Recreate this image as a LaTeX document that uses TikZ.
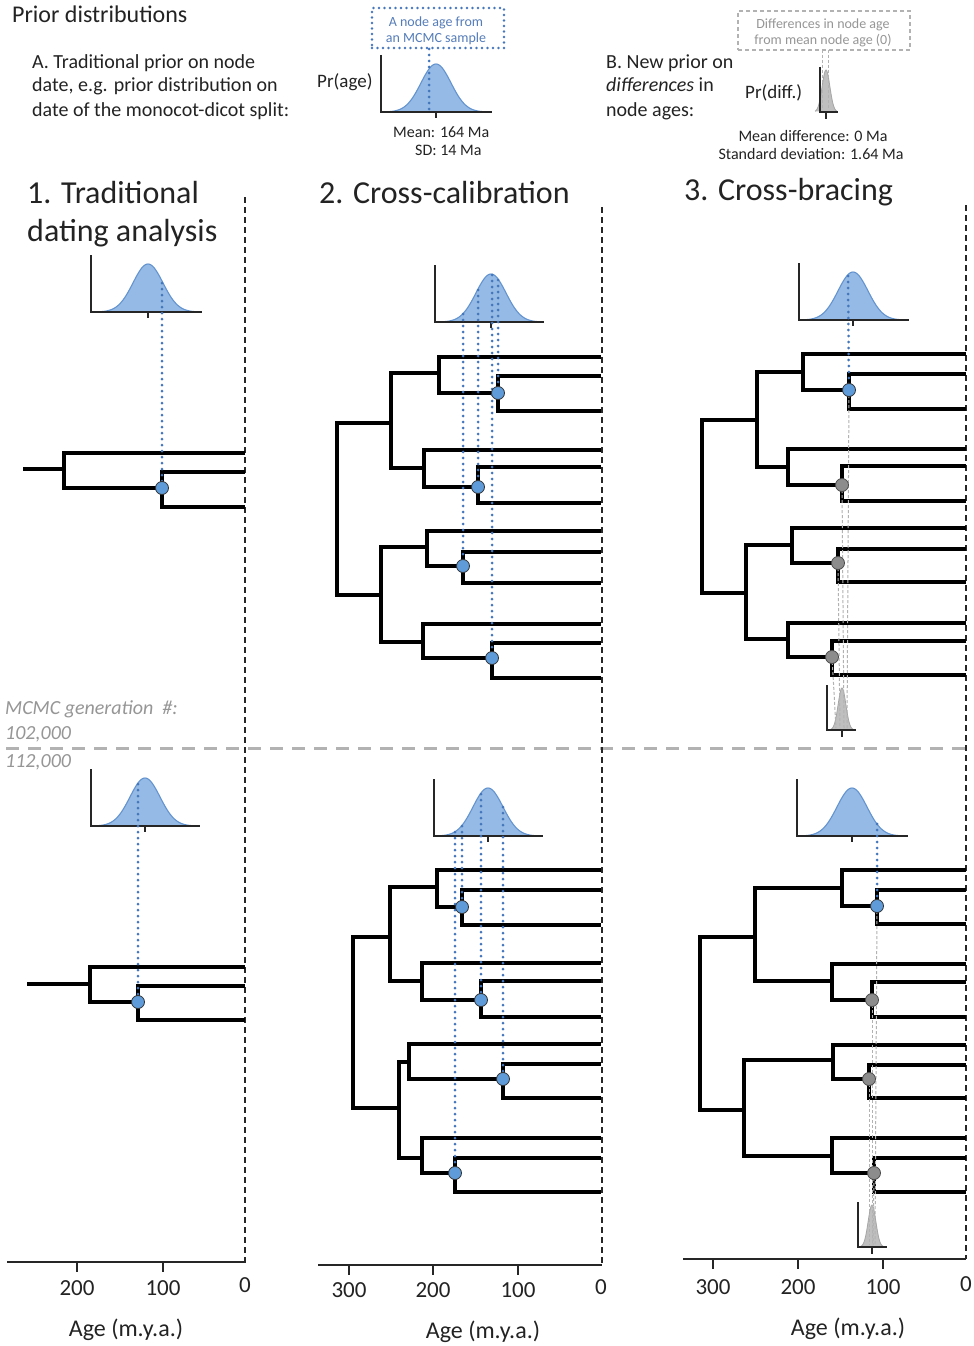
\documentclass[tikz,border=0pt]{standalone}
\usepackage{fontspec}
\setmainfont{Carlito}
\definecolor{bfill}{RGB}{148,186,229}
\definecolor{bline}{RGB}{100,148,208}
\definecolor{bdot}{RGB}{68,118,188}
\definecolor{bnode}{RGB}{95,155,216}
\definecolor{gnode}{RGB}{140,140,140}
\definecolor{txt}{RGB}{35,35,35}
\definecolor{btxt}{RGB}{85,125,185}
\definecolor{gtxt}{RGB}{150,150,150}
\definecolor{sepc}{RGB}{178,178,178}

\newcommand{\mybell}[4]{%
  \fill[bfill] plot[domain=-46:46,samples=61,smooth] ({#3+\x},{#2-48*exp(-((\x)*(\x))/450)}) -- cycle;
  \draw[bline,line width=1.1pt] plot[domain=-46:46,samples=61,smooth] ({#3+\x},{#2-48*exp(-((\x)*(\x))/450)});
  \draw[axisline] (#1,#2-57) -- (#1,#2) -- (#4,#2);
  \draw[axisline] (#3,#2) -- (#3,#2+6);
}
\newcommand{\mynarrow}[5]{%
  \fill[gray!50] plot[domain=-#5:#5,samples=41,smooth] ({#3+\x},{#2-42*exp(-((\x)*(\x))/30)}) -- cycle;
  \draw[gray!70,line width=0.8pt] plot[domain=-#5:#5,samples=41,smooth] ({#3+\x},{#2-42*exp(-((\x)*(\x))/30)});
  \draw[axisline] (#1,#2-45) -- (#1,#2) -- (#4,#2);
  \draw[axisline] (#3,#2) -- (#3,#2+7);
}

\begin{document}
\begin{tikzpicture}[x=1pt,y=-1pt,
  branch/.style={line width=3.2pt,line join=miter,black},
  axisline/.style={line width=1.5pt,black!85},
  vdash/.style={line width=1.5pt,black!85,dash pattern=on 6pt off 4pt},
  hsep/.style={line width=3pt,sepc,dash pattern=on 13pt off 9pt},
  bluedot/.style={bdot,line width=3pt,line cap=round,dash pattern=on 0pt off 6pt},
  greydash/.style={gray!60,line width=1pt,dash pattern=on 3pt off 2pt},
  bnodest/.style={circle,fill=bnode,draw=black!80,line width=0.8pt,minimum size=13pt,inner sep=0pt},
  gnodest/.style={circle,fill=gnode,draw=black!70,line width=0.8pt,minimum size=13pt,inner sep=0pt},
  bluebox/.style={draw=bdot,line width=2.8pt,line cap=round,dash pattern=on 0pt off 5.5pt,inner sep=0pt},
  greybox/.style={draw=gray!60,line width=1.2pt,dash pattern=on 4pt off 3pt,inner sep=0pt},
  t24/.style={anchor=base west,inner sep=0pt,text=txt,font=\fontsize{24}{28}\selectfont},
  t20/.style={anchor=base west,inner sep=0pt,text=txt,font=\fontsize{20}{24}\selectfont},
  t19/.style={anchor=base west,inner sep=0pt,text=txt,font=\fontsize{19}{23}\selectfont},
  t16/.style={anchor=base,inner sep=0pt,text=txt,font=\fontsize{16}{19}\selectfont},
  t14b/.style={anchor=base,inner sep=0pt,text=btxt,font=\fontsize{14}{17}\selectfont},
  t14g/.style={anchor=base,inner sep=0pt,text=gtxt,font=\fontsize{14}{17}\selectfont},
  t32/.style={anchor=base west,inner sep=0pt,text=txt,font=\fontsize{32}{39}\selectfont},
  tgen/.style={anchor=base west,inner sep=0pt,text=gtxt,font=\fontsize{20}{24}\selectfont\itshape},
  tick/.style={anchor=base,inner sep=0pt,text=txt,font=\fontsize{23}{27}\selectfont},
  agelab/.style={anchor=base,inner sep=0pt,text=txt,font=\fontsize{24}{28}\selectfont}
]
\useasboundingbox (0,0) rectangle (974,1346);
\fill[white] (0,0) rectangle (974,1346);

% ---------- header texts ----------
\node[t24] (ptitle) at (12,23) {Prior distributions};
\node[t20] (a1) at (32,68) {A. Traditional prior on node};
\node[t20] (a2) at (32,92) {date, e.g. prior distribution on};
\node[t20] (a3) at (32,116) {date of the monocot-dicot split:};
\node[t19] (prage) at (317,87) {Pr(age)};
\node[bluebox,minimum width=132pt,minimum height=40pt] (boxA) at (438,28) {};
\node[t14b] (boxA1) at (436,27) {A node age from};
\node[t14b] (boxA2) at (436,43) {an MCMC sample};
\mybell{381}{112}{436}{492}
\draw[bluedot] (429,49) -- (429,112);
\node[t16,anchor=base west] (meanA) at (393,137) {Mean: 164 Ma};
\node[t16,anchor=base west] (sdA) at (415,155) {SD: 14 Ma};

\node[t20] (b1) at (606,68) {B. New prior on};
\node[t20] (b2) at (606,92) {\textit{differences} in};
\node[t20] (b3) at (606,116) {node ages:};
\node[t19] (prdiff) at (745,98) {Pr(diff.)};
\node[greybox,minimum width=172pt,minimum height=39pt] (boxB) at (824,30.5) {};
\node[t14g] (boxB1) at (823,29) {Differences in node age};
\node[t14g] (boxB2) at (823,45) {from mean node age (0)};
\mynarrow{820}{112}{826}{838}{11}
\draw[greydash] (822,50) -- (822,110);
\draw[greydash] (828,50) -- (828,110);
\node[t16] (meanB) at (813,141) {Mean difference: 0 Ma};
\node[t16] (sdB) at (811,159) {Standard deviation: 1.64 Ma};

% ---------- panel titles ----------
\node[t32] (title1a) at (27,203) {1. Traditional};
\node[t32] (title1b) at (27,241) {dating analysis};
\node[t32] (title2) at (319,203) {2. Cross-calibration};
\node[t32] (title3) at (684,200) {3. Cross-bracing};

% ---------- separators ----------
\draw[hsep] (6,748) -- (974,748);
\draw[vdash] (245,197) -- (245,1262);
\draw[vdash] (602,207) -- (602,1265);
\draw[vdash] (966,205) -- (966,1259);

\node[tgen] (gen) at (5,714) {MCMC generation\ \ \#:};
\node[tgen] (gen1) at (5,739) {102,000};
\node[tgen] (gen2) at (5,767) {112,000};

% ---------- distributions in panels ----------
\mybell{91}{312}{148}{202}
\mybell{91}{826}{145}{200}
\mybell{435}{322}{491}{544}
\mybell{434}{836}{488}{543}
\mybell{799}{320}{853}{909}
\mybell{797}{836}{852}{908}
\mynarrow{827}{730}{842}{856}{12}
\mynarrow{858}{1247}{872}{887}{12}

% ---------- panel 1 trees ----------
\coordinate (c11) at (162,488);
\draw[branch] (23,469) -- (64,469);
\draw[branch] (245,453) -| (64,488) -- (c11);
\draw[branch] (245,472) -| (162,507) -- (245,507);
\draw[bluedot] (162,283) -- (c11);
\node[bnodest] (n11) at (c11) {};

\coordinate (c12) at (138,1002);
\draw[branch] (27,984) -- (90,984);
\draw[branch] (245,967) -| (90,1002) -- (c12);
\draw[branch] (245,986) -| (138,1020) -- (245,1020);
\draw[bluedot] (138,784) -- (c12);
\node[bnodest] (n12) at (c12) {};

% ---------- panel 2 top ----------
\coordinate (c21) at (498,393);
\coordinate (c22) at (478,487);
\coordinate (c23) at (463,566);
\coordinate (c24) at (492,658);
\draw[branch] (391,423) -| (337,595) -- (381,595);
\draw[branch] (439,373) -| (391,468) -- (424,468);
\draw[branch] (601,357) -| (439,393) -- (c21);
\draw[branch] (601,376) -| (498,411) -- (601,411);
\draw[branch] (601,450) -| (424,487) -- (c22);
\draw[branch] (601,467) -| (478,503) -- (601,503);
\draw[branch] (427,547) -| (381,642) -- (423,642);
\draw[branch] (601,531) -| (427,566) -- (c23);
\draw[branch] (601,552) -| (463,583) -- (601,583);
\draw[branch] (601,624) -| (423,658) -- (c24);
\draw[branch] (601,643) -| (492,678) -- (601,678);
\draw[bluedot] (498,280) -- (c21);
\draw[bluedot] (478,290) -- (c22);
\draw[bluedot] (463,314) -- (c23);
\draw[bluedot] (492,275) -- (c24);
\node[bnodest] (n21) at (c21) {};
\node[bnodest] (n22) at (c22) {};
\node[bnodest] (n23) at (c23) {};
\node[bnodest] (n24) at (c24) {};

% ---------- panel 2 bottom ----------
\coordinate (d21) at (462,907);
\coordinate (d22) at (481,1000);
\coordinate (d23) at (503,1079);
\coordinate (d24) at (455,1173);
\draw[branch] (390,937) -| (353,1108) -- (399,1108);
\draw[branch] (437,887) -| (390,981) -- (422,981);
\draw[branch] (601,870) -| (437,907) -- (d21);
\draw[branch] (601,890) -| (462,925) -- (601,925);
\draw[branch] (601,963) -| (422,1000) -- (d22);
\draw[branch] (601,981) -| (481,1017) -- (601,1017);
\draw[branch] (409,1062) -| (399,1158) -- (422,1158);
\draw[branch] (601,1044) -| (409,1079) -- (d23);
\draw[branch] (601,1064) -| (503,1098) -- (601,1098);
\draw[branch] (601,1138) -| (422,1173) -- (d24);
\draw[branch] (601,1158) -| (455,1192) -- (601,1192);
\draw[bluedot] (462,826) -- (d21);
\draw[bluedot] (481,794) -- (d22);
\draw[bluedot] (503,807) -- (d23);
\draw[bluedot] (455,832) -- (d24);
\node[bnodest] (m21) at (d21) {};
\node[bnodest] (m22) at (d22) {};
\node[bnodest] (m23) at (d23) {};
\node[bnodest] (m24) at (d24) {};

% ---------- panel 3 top ----------
\coordinate (c31) at (849,390);
\coordinate (c32) at (842,485);
\coordinate (c33) at (838,563);
\coordinate (c34) at (832,657);
\draw[branch] (757,420) -| (702,593) -- (746,593);
\draw[branch] (803,372) -| (757,467) -- (788,467);
\draw[branch] (966,354) -| (803,390) -- (c31);
\draw[branch] (966,374) -| (849,409) -- (966,409);
\draw[branch] (966,449) -| (788,485) -- (c32);
\draw[branch] (966,466) -| (842,501) -- (966,501);
\draw[branch] (792,545) -| (746,639) -- (788,639);
\draw[branch] (966,528) -| (792,563) -- (c33);
\draw[branch] (966,549) -| (838,582) -- (966,582);
\draw[branch] (966,623) -| (788,657) -- (c34);
\draw[branch] (966,641) -| (832,675) -- (966,675);
\draw[bluedot] (848,276) -- (c31);
\draw[greydash] (c31) -- (847,728);
\draw[greydash] (c32) -- (844,728);
\draw[greydash] (c33) -- (840,728);
\draw[greydash] (c34) -- (836,728);
\node[bnodest] (n31) at (c31) {};
\node[gnodest] (n32) at (c32) {};
\node[gnodest] (n33) at (c33) {};
\node[gnodest] (n34) at (c34) {};

% ---------- panel 3 bottom ----------
\coordinate (d31) at (877,906);
\coordinate (d32) at (872,1000);
\coordinate (d33) at (869,1079);
\coordinate (d34) at (874,1173);
\draw[branch] (755,937) -| (700,1110) -- (744,1110);
\draw[branch] (842,888) -| (755,981) -- (832,981);
\draw[branch] (966,870) -| (842,906) -- (d31);
\draw[branch] (966,890) -| (877,924) -- (966,924);
\draw[branch] (966,964) -| (832,1000) -- (d32);
\draw[branch] (966,982) -| (872,1017) -- (966,1017);
\draw[branch] (833,1060) -| (744,1156) -- (832,1156);
\draw[branch] (966,1045) -| (833,1079) -- (d33);
\draw[branch] (966,1065) -| (869,1098) -- (966,1098);
\draw[branch] (966,1138) -| (832,1173) -- (d34);
\draw[branch] (966,1158) -| (874,1192) -- (966,1192);
\draw[bluedot] (877,824) -- (d31);
\draw[greydash] (d31) -- (875,1245);
\draw[greydash] (d32) -- (872,1245);
\draw[greydash] (d33) -- (869,1245);
\draw[greydash] (d34) -- (873,1245);
\node[bnodest] (m31) at (d31) {};
\node[gnodest] (m32) at (d32) {};
\node[gnodest] (m33) at (d33) {};
\node[gnodest] (m34) at (d34) {};

% ---------- age axes ----------
\draw[axisline,line width=2pt] (7,1262) -- (246,1262);
\foreach \xx in {77,163} {\draw[axisline,line width=2pt] (\xx,1262) -- (\xx,1272);}
\node[tick] (x1a) at (77,1295) {200};
\node[tick] (x1b) at (163,1295) {100};
\node[tick] (x1c) at (245,1292) {0};
\node[agelab] (age1) at (126,1336) {Age (m.y.a.)};

\draw[axisline,line width=2pt] (318,1265) -- (602,1265);
\foreach \xx in {349,433,518} {\draw[axisline,line width=2pt] (\xx,1265) -- (\xx,1275);}
\node[tick] (x2a) at (349,1297) {300};
\node[tick] (x2b) at (433,1297) {200};
\node[tick] (x2c) at (518,1297) {100};
\node[tick] (x2d) at (601,1294) {0};
\node[agelab] (age2) at (483,1338) {Age (m.y.a.)};

\draw[axisline,line width=2pt] (683,1259) -- (966,1259);
\foreach \xx in {713,798,883} {\draw[axisline,line width=2pt] (\xx,1259) -- (\xx,1269);}
\node[tick] (x3a) at (713,1294) {300};
\node[tick] (x3b) at (798,1294) {200};
\node[tick] (x3c) at (883,1294) {100};
\node[tick] (x3d) at (966,1291) {0};
\node[agelab] (age3) at (848,1335) {Age (m.y.a.)};
\end{tikzpicture}
\end{document}
